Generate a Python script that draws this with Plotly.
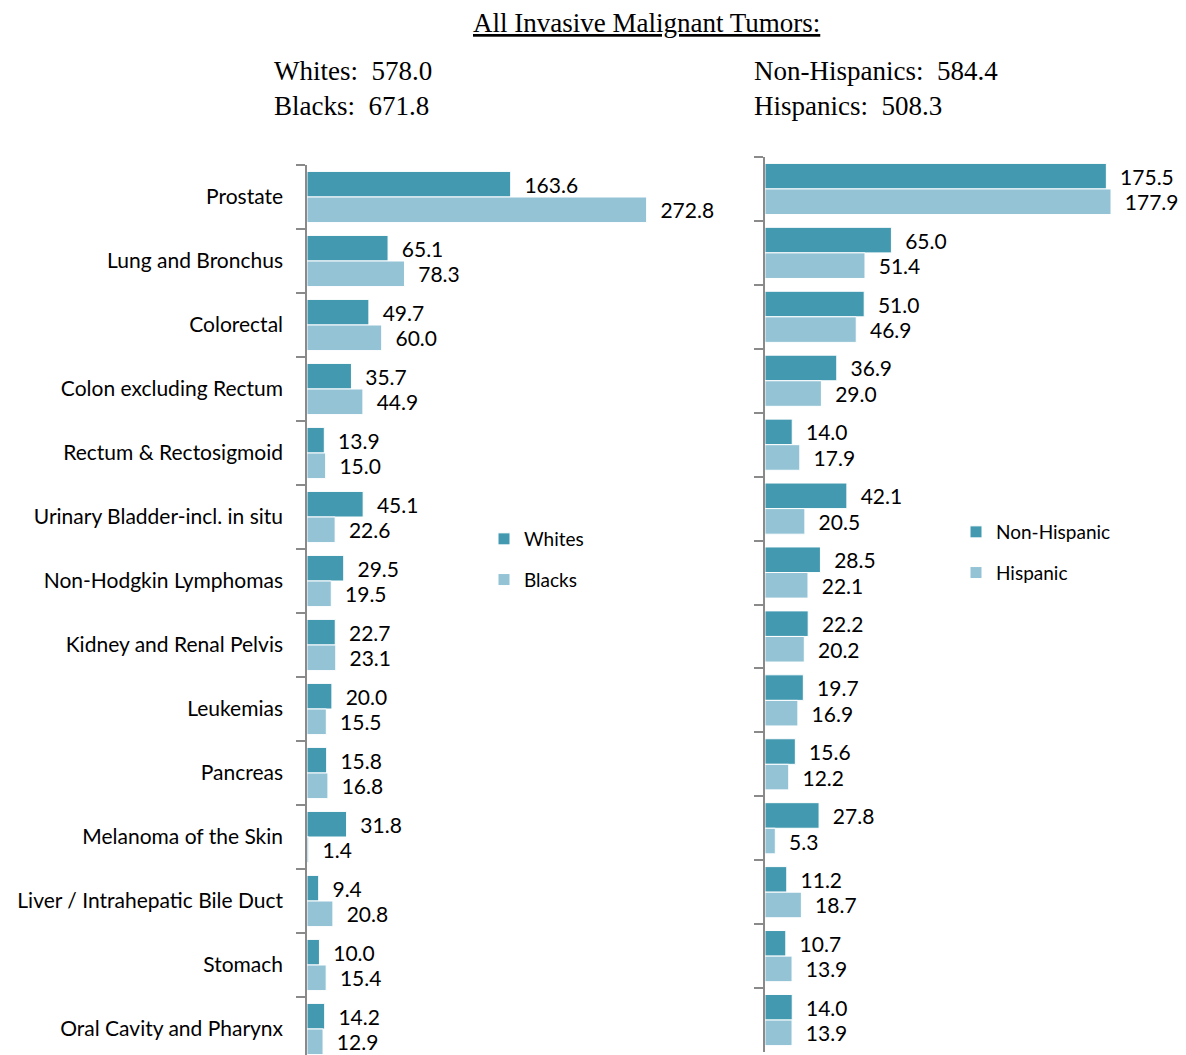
import plotly.graph_objects as go

# Data

sites = ["Prostate", "Lung and Bronchus", "Colorectal", "Colon excluding Rectum",
         "Rectum & Rectosigmoid", "Urinary Bladder-incl. in situ", "Non-Hodgkin Lymphomas",
         "Kidney and Renal Pelvis", "Leukemias", "Pancreas", "Melanoma of the Skin",
         "Liver / Intrahepatic Bile Duct", "Stomach", "Oral Cavity and Pharynx"]

whites = [163.6, 65.1, 49.7, 35.7, 13.9, 45.1, 29.5, 22.7, 20.0, 15.8, 31.8, 9.4, 10.0, 14.2]
blacks = [272.8, 78.3, 60.0, 44.9, 15.0, 22.6, 19.5, 23.1, 15.5, 16.8, 1.4, 20.8, 15.4, 12.9]
non_hispanic = [175.5, 65.0, 51.0, 36.9, 14.0, 42.1, 28.5, 22.2, 19.7, 15.6, 27.8, 11.2, 10.7, 14.0]
hispanic = [177.9, 51.4, 46.9, 29.0, 17.9, 20.5, 22.1, 20.2, 16.9, 12.2, 5.3, 18.7, 13.9, 13.9]

totals_left = [("Whites", 578.0), ("Blacks", 671.8)]
totals_right = [("Non-Hispanics", 584.4), ("Hispanics", 508.3)]

# Style

W, H = 1186, 1055
OFF = 8  # page body margin
dark = "#4399B0"
light = "#93C3D5"
axis_col = "#8a8a8a"
font = "Lato, 'Open Sans', sans-serif"
serif = "'Liberation Serif', 'DejaVu Serif', serif"
pad = "\u00a0\u00a0"

def bar(vals, name, color, xa, ya, lg, group):
    return go.Bar(
        y=sites, x=vals, orientation="h", name=name,
        marker=dict(color=color, line=dict(color="white", width=1)),
        text=[pad + f"{v:.1f}" for v in vals], textposition="outside",
        textfont=dict(family=font, size=21, color="black"),
        cliponaxis=False, xaxis=xa, yaxis=ya, legend=lg, legendgroup=group,
    )

fig = go.Figure()
fig.add_trace(bar(whites, "Whites", dark, "x", "y", "legend", "w"))
fig.add_trace(bar(blacks, "Blacks", light, "x", "y", "legend", "b"))
fig.add_trace(bar(non_hispanic, "Non-Hispanic", dark, "x2", "y2", "legend2", "nh"))
fig.add_trace(bar(hispanic, "Hispanic", light, "x2", "y2", "legend2", "h"))

# Axes (screen pixel positions converted to paper coords, margins are zero)

def px_x(p):
    return (p - OFF) / W

def px_y(p):
    return 1 - (p - OFF) / H

left_x0, left_scale = 307, 1.245
right_x0, right_scale = 765, 1.945
left_max, right_max = 300, 205
band = 64

xcommon = dict(showline=False, showticklabels=False, showgrid=False, zeroline=False)
ycommon = dict(type="category", categoryarray=sites, showline=True, linecolor=axis_col,
               linewidth=1.5, ticks="outside", tickson="boundaries", ticklen=9,
               tickcolor=axis_col, tickwidth=1.5, showgrid=False, automargin=False)

fig.update_layout(
    width=W, height=H,
    margin=dict(l=0, r=0, t=0, b=0),
    plot_bgcolor="white", paper_bgcolor="white",
    barmode="group", bargap=0.2, bargroupgap=0,
    xaxis=dict(domain=[px_x(left_x0), px_x(left_x0 + left_max * left_scale)],
               range=[0, left_max], anchor="y", **xcommon),
    yaxis=dict(domain=[0, px_y(165)], range=[-0.5 + (H + OFF - 165) / band, -0.5],
               anchor="x", ticklabelstandoff=18,
               tickfont=dict(family=font, size=21, color="black"), **ycommon),
    xaxis2=dict(domain=[px_x(right_x0), px_x(right_x0 + right_max * right_scale)],
                range=[0, right_max], anchor="y2", **xcommon),
    yaxis2=dict(domain=[px_y(1052), px_y(157)], range=[13.5, -0.5], anchor="x2",
                showticklabels=False, **ycommon),
    legend=dict(x=px_x(484), y=px_y(520), xanchor="left", yanchor="top",
                font=dict(family=font, size=19, color="black"), tracegroupgap=13,
                bgcolor="rgba(0,0,0,0)"),
    legend2=dict(x=px_x(956), y=px_y(513), xanchor="left", yanchor="top",
                 font=dict(family=font, size=19, color="black"), tracegroupgap=13,
                 bgcolor="rgba(0,0,0,0)"),
)

# Titles

fig.add_annotation(text="<u>All Invasive Malignant Tumors:</u>", x=px_x(646), y=px_y(23),
                   xref="paper", yref="paper", showarrow=False, xanchor="center", yanchor="middle",
                   borderpad=0, font=dict(family=serif, size=27, color="black"))
for i, (name, val) in enumerate(totals_left):
    fig.add_annotation(text=f"{name}:&nbsp; {val:.1f}", x=px_x(272), y=px_y(71 + 35 * i),
                       xref="paper", yref="paper", showarrow=False, xanchor="left",
                       yanchor="middle", font=dict(family=serif, size=27, color="black"))
for i, (name, val) in enumerate(totals_right):
    fig.add_annotation(text=f"{name}:&nbsp; {val:.1f}", x=px_x(752), y=px_y(71 + 35 * i),
                       xref="paper", yref="paper", showarrow=False, xanchor="left",
                       yanchor="middle", font=dict(family=serif, size=27, color="black"))

fig.write_html("out.html")
